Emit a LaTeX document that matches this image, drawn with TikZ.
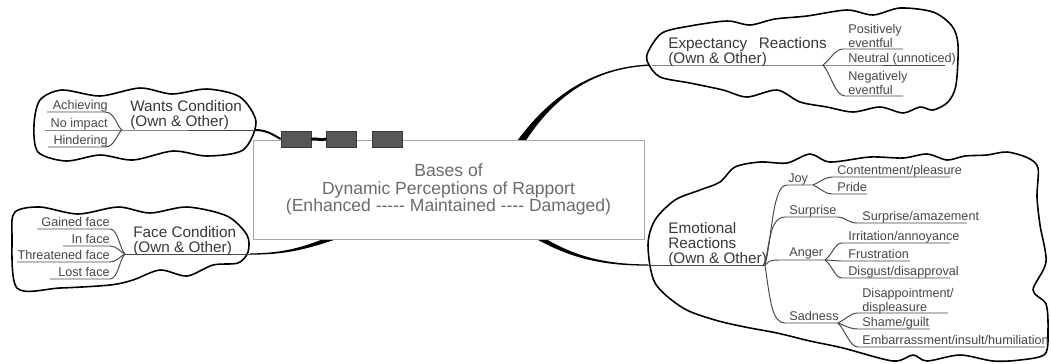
\documentclass[tikz,border=0pt]{standalone}
\usepackage{fontspec}
\setmainfont{Liberation Sans}[Ligatures=TeXOff]
\usetikzlibrary{calc}

\tikzset{
  puff/.style={draw=black, line width=0.9pt, fill=white},
  twig/.style={draw=black!72, line width=0.55pt},
  leaf/.style={font=\fontsize{7.2}{8.2}\selectfont, text=black!72, inner sep=0pt, align=left},
  topic/.style={font=\fontsize{8.7}{8.6}\selectfont, text=black!78, inner sep=0pt, align=left},
  tab/.style={draw=black!78, fill=black!66, minimum width=0.6cm, minimum height=0.32cm, inner sep=0pt},
}

\begin{document}
\begin{tikzpicture}[x=0.02cm, y=-0.02cm]
  \useasboundingbox (0,0) rectangle (1051,363);

  % ends of the stems
  \coordinate (wantsOut) at (255,130);
  \coordinate (faceOut) at (250,254);
  \coordinate (expIn) at (652,65);
  \coordinate (emoIn) at (648,265);

  % stems (thick at the box)
  \fill ($(faceOut)+(0,0.6)$) .. controls (290,254.8) and (310.5,247.6) .. (338.8,238.4)
        -- (337.2,233.6) .. controls (309.5,244.4) and (290,253.2) .. ($(faceOut)+(0,-0.6)$) -- cycle;
  \fill (534.7,238.1) .. controls (569.2,257.4) and (600,265.8) .. ($(emoIn)+(0,0.6)$)
        -- ($(emoIn)+(0,-0.6)$) .. controls (600,264.2) and (570.8,254.6) .. (537.3,233.9) -- cycle;
  \fill (523,145) .. controls (549.5,103) and (588,67.6) .. ($(expIn)+(0,0.7)$)
        -- ($(expIn)+(0,-0.7)$) .. controls (588,66.4) and (546.5,101) .. (517,141) -- cycle;

  % centre box
  \node[draw=black!35, fill=white, minimum width=7.82cm, minimum height=1.98cm, inner sep=0pt,
        align=center, text=black!58, font=\fontsize{10}{10.2}\selectfont] (base) at (448.5,189.5)
        {Bases of\\Dynamic Perceptions of Rapport\\(Enhanced ----- Maintained ---- Damaged)};

  \node[tab] (tab1) at (296,139) {};
  \node[tab] (tab2) at (341.5,139) {};
  \node[tab] (tab3) at (387,139) {};
  \draw[line width=1.1pt] (wantsOut) .. controls (266,130) and (272,134) .. (tab1.west);
  \draw[line width=1.6pt] (tab1.east) .. controls (318,138) and (320,141) .. (tab2.west);

  % clouds
  \draw[puff] plot[smooth cycle] coordinates {(34,125) (40,100) (62,90) (100,96) (140,88) (172,94)
    (207,89) (240,97) (256,122) (243,150) (207,156) (173,151) (133,160) (100,155) (66,161) (38,152)};
  \draw[puff] plot[smooth cycle] coordinates {(12,235) (15,212) (40,207) (78,214) (118,207) (150,213)
    (187,207) (227,216) (247,235) (248,252) (238,263) (213,265) (187,276) (160,270) (133,280)
    (110,285) (60,288) (17,288)};
  \draw[puff] plot[smooth cycle] coordinates {(648,52) (662,33) (690,26) (727,21) (750,25) (775,19)
    (807,16) (847,10) (873,15) (900,8) (933,12) (952,26) (958,45) (956,85) (948,102) (933,110)
    (920,107) (903,113) (880,107) (853,112) (827,107) (800,102) (777,90) (747,97) (723,90)
    (690,83) (660,77) (648,63)};
  \draw[puff] plot[smooth cycle] coordinates {(648,245) (655,220) (675,200) (700,190) (720,182)
    (735,167) (760,162) (787,163) (810,154) (830,162) (870,157) (903,158) (927,154) (947,160)
    (965,156) (987,155) (1007,152) (1028,158) (1038,168) (1037,197) (1040,225) (1046,262)
    (1033,290) (1046,304) (1048,330) (1045,354) (1020,360) (993,361) (960,355) (927,361)
    (913,355) (893,361) (843,348) (810,341) (777,333) (745,327) (715,320) (683,308) (655,283)};

  % wants condition
  \node[topic, anchor=north west] (wants) at (130,100) {Wants Condition\\(Own \& Other)};
  \coordinate (wantsHub) at (122,130);
  \draw[twig] (45,130) -- (wantsHub) -- (wantsOut);
  \draw[twig] (47,112) -- (105,112) .. controls (115,112) and (117,127) .. (wantsHub);
  \draw[twig] (48,147) -- (105,147) .. controls (115,147) and (117,133) .. (wantsHub);
  \node[leaf, anchor=base east] (achieving) at (108,109) {Achieving};
  \node[leaf, anchor=base east] (noimpact) at (108,127) {No impact};
  \node[leaf, anchor=base east] (hindering) at (108,144) {Hindering};

  % face condition
  \node[topic, anchor=north west] (face) at (133,226) {Face Condition\\(Own \& Other)};
  \coordinate (faceHub) at (125,254);
  \draw[twig] (faceHub) -- (faceOut);
  \draw[twig] (37,229) -- (110,229) .. controls (118,229) and (120,250) .. (faceHub);
  \draw[twig] (63,246) -- (110,246) .. controls (117,246) and (120,252) .. (faceHub);
  \draw[twig] (17,262) -- (110,262) .. controls (117,262) and (120,256) .. (faceHub);
  \draw[twig] (50,279) -- (110,279) .. controls (118,279) and (120,258) .. (faceHub);
  \node[leaf, anchor=base east] (gained) at (110,226) {Gained face};
  \node[leaf, anchor=base east] (inface) at (110,243) {In face};
  \node[leaf, anchor=base east] (threat) at (110,259) {Threatened face};
  \node[leaf, anchor=base east] (lost) at (110,276) {Lost face};

  % expectancy reactions
  \node[topic, anchor=north west] (expect) at (668,37) {Expectancy\hspace{6.5pt}Reactions\\(Own \& Other)};
  \coordinate (expHub) at (823,65);
  \draw[twig] (expIn) -- (expHub) -- (945,65);
  \draw[twig] (expHub) .. controls (830,60) and (835,49) .. (843,49) -- (903,49);
  \draw[twig] (expHub) .. controls (830,72) and (835,96) .. (845,96) -- (903,96);
  \node[leaf, anchor=north west] (posit) at (848,24) {Positively\\eventful};
  \node[leaf, anchor=base west] (neutral) at (848,62) {Neutral (unnoticed)};
  \node[leaf, anchor=north west] (negat) at (848,71) {Negatively\\eventful};

  % emotional reactions
  \node[topic, anchor=north west] (emo) at (668,222) {Emotional\\Reactions\\(Own \& Other)};
  \coordinate (emoHub) at (765,265);
  \draw[twig] (emoIn) -- (emoHub);
  \coordinate (joyHub) at (813,185);
  \coordinate (angerHub) at (825,260);
  \coordinate (sadHub) at (838,323);
  \draw[twig] (emoHub) .. controls (772,240) and (772,185) .. (787,185) -- (joyHub);
  \draw[twig] (emoHub) .. controls (770,235) and (772,217) .. (785,217) -- (838,217)
    .. controls (845,217) and (848,223) .. (857,223) -- (967,223);
  \draw[twig] (emoHub) .. controls (770,260) and (772,260) .. (780,260) -- (angerHub);
  \draw[twig] (emoHub) .. controls (770,300) and (772,323) .. (785,323) -- (sadHub);
  \draw[twig] (joyHub) .. controls (820,182) and (825,177) .. (832,177) -- (950,177);
  \draw[twig] (joyHub) .. controls (820,188) and (825,194) .. (832,194) -- (867,194);
  \draw[twig] (angerHub) .. controls (832,255) and (835,243) .. (842,243) -- (950,243);
  \draw[twig] (angerHub) .. controls (832,260) and (835,261) .. (842,261) -- (910,261);
  \draw[twig] (angerHub) .. controls (832,265) and (835,278) .. (842,278) -- (950,278);
  \draw[twig] (sadHub) .. controls (845,320) and (850,313) .. (858,313) -- (948,313);
  \draw[twig] (sadHub) .. controls (846,326) and (850,329) .. (858,329) -- (930,329);
  \draw[twig] (sadHub) .. controls (845,330) and (850,347) .. (858,347) -- (1045,347);
  \node[leaf, anchor=base west] (joy) at (788,182) {Joy};
  \node[leaf, anchor=base west] (content) at (837,174) {Contentment/pleasure};
  \node[leaf, anchor=base west] (pride) at (837,191) {Pride};
  \node[leaf, anchor=base west] (surprise) at (789,214) {Surprise};
  \node[leaf, anchor=base west] (amaze) at (862,220) {Surprise/amazement};
  \node[leaf, anchor=base west] (anger) at (789,256) {Anger};
  \node[leaf, anchor=base west] (irrit) at (848,240) {Irritation/annoyance};
  \node[leaf, anchor=base west] (frust) at (848,258) {Frustration};
  \node[leaf, anchor=base west] (disgust) at (848,275) {Disgust/disapproval};
  \node[leaf, anchor=base west] (sadness) at (789,320) {Sadness};
  \node[leaf, anchor=north west] (disapp) at (862,288) {Disappointment/\\displeasure};
  \node[leaf, anchor=base west] (shame) at (862,326) {Shame/guilt};
  \node[leaf, anchor=base west] (embarr) at (862,344) {Embarrassment/insult/humiliation};
\end{tikzpicture}
\end{document}
